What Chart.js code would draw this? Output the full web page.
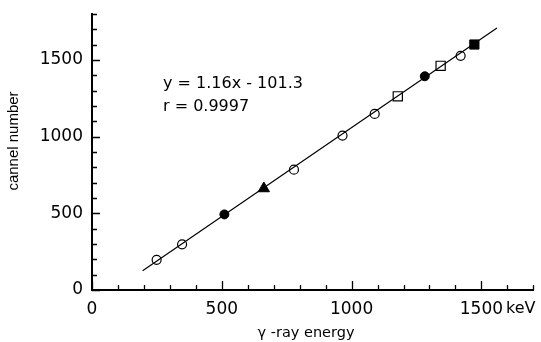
<!DOCTYPE html>
<html>
<head>
<meta charset="utf-8">
<script src="https://cdn.jsdelivr.net/npm/chart.js@4.4.0/dist/chart.umd.min.js"></script>
<style>
  html, body { margin: 0; padding: 0; background: #fff; }
  #wrap { width: 541px; height: 342px; position: relative; }
</style>
</head>
<body>
<div id="wrap"><canvas id="c"></canvas></div>
<script>
// ---- data (x = keV, y = channel) ----
const openCircleX   = [249, 347, 778, 965, 1089, 1420];
const openCircleY   = [197, 298, 785, 1007, 1148, 1527];
const filledCircleX = [510, 1282];
const filledCircleY = [493, 1394];
const triangleX     = [662];
const triangleY     = [662];
const openSquareX   = [1178, 1343];
const openSquareY   = [1263, 1462];
const filledSquareX = [1473];
const filledSquareY = [1601];
const fitX          = [195, 1560];
const fitY          = [125, 1708];
const xTickLabels   = [0, 500, 1000, 1500];
const yTickLabels   = [0, 500, 1000, 1500];

const NUMFONT = "'DejaVu Sans', Verdana, sans-serif";
const TXTFONT = "'Liberation Sans', Arial, sans-serif";

function pts(xs, ys) {
    return xs.map((x, i) => ({ x: x, y: ys[i] }));
}

// inward ticks every 100 (longer on labelled ones), titles, unit and fit text
const extras = {
    id: 'extras',
    afterDraw(chart) {
        const ctx = chart.ctx;
        const xs = chart.scales.x, ys = chart.scales.y;
        const area = chart.chartArea;
        ctx.save();
        ctx.strokeStyle = '#000';
        ctx.lineWidth = 1.3;
        ctx.beginPath();
        for (let v = 0; v <= xs.max; v += 100) {
            const px = Math.round(xs.getPixelForValue(v)) + 0.5;
            const len = xTickLabels.includes(v) ? 9 : 5;
            ctx.moveTo(px, area.bottom);
            ctx.lineTo(px, area.bottom - len);
        }
        for (let v = 0; v <= ys.max; v += 100) {
            const py = Math.round(ys.getPixelForValue(v)) + 0.5;
            const len = yTickLabels.includes(v) ? 8 : 5;
            ctx.moveTo(area.left, py);
            ctx.lineTo(area.left + len, py);
        }
        ctx.stroke();

        ctx.fillStyle = '#000';
        ctx.textBaseline = 'alphabetic';
        ctx.textAlign = 'left';
        ctx.font = '16px ' + NUMFONT;
        ctx.fillText('keV', 506, 313);
        ctx.fillText('y = 1.16x - 101.3', 163, 88);
        ctx.fillText('r = 0.9997', 163, 111);

        // axis titles
        ctx.font = '14.5px ' + NUMFONT;
        ctx.textAlign = 'center';
        ctx.fillText('\u03b3 -ray energy', 306, 337);

        ctx.font = '15px ' + TXTFONT;
        ctx.translate(18, 141);
        ctx.rotate(-Math.PI / 2);
        ctx.fillText('cannel number', 0, 0);
        ctx.restore();
    }
};

const black = '#000';

new Chart(document.getElementById('c'), {
    type: 'scatter',
    data: {
        datasets: [
            {
                type: 'line',
                data: pts(fitX, fitY),
                borderColor: black,
                borderWidth: 1.2,
                pointRadius: 0,
                fill: false
            },
            {
                data: pts(openCircleX, openCircleY),
                pointStyle: 'circle',
                pointRadius: 4.5,
                backgroundColor: '#fff',
                borderColor: black,
                borderWidth: 1.2
            },
            {
                data: pts(filledCircleX, filledCircleY),
                pointStyle: 'circle',
                pointRadius: 4.5,
                backgroundColor: black,
                borderColor: black,
                borderWidth: 1
            },
            {
                data: pts(triangleX, triangleY),
                pointStyle: 'triangle',
                pointRadius: 6.5,
                backgroundColor: black,
                borderColor: black,
                borderWidth: 1
            },
            {
                data: pts(openSquareX, openSquareY),
                pointStyle: 'rect',
                pointRadius: 6.5,
                backgroundColor: '#fff',
                borderColor: black,
                borderWidth: 1.2
            },
            {
                data: pts(filledSquareX, filledSquareY),
                pointStyle: 'rect',
                pointRadius: 6.5,
                backgroundColor: black,
                borderColor: black,
                borderWidth: 1
            }
        ]
    },
    options: {
        responsive: true,
        maintainAspectRatio: false,
        animation: false,
        layout: { padding: { top: 14, right: 6, left: 0, bottom: 0 } },
        plugins: {
            legend: { display: false },
            tooltip: { enabled: false }
        },
        scales: {
            x: {
                type: 'linear',
                min: 0,
                max: 1700,
                afterFit(scale) { scale.height = 52; },
                grid: { display: false },
                border: { display: true, color: black, width: 2 },
                ticks: {
                    stepSize: 100,
                    autoSkip: false,
                    maxRotation: 0,
                    padding: 1,
                    color: black,
                    font: { family: NUMFONT, size: 17 },
                    callback: v => xTickLabels.includes(v) ? String(v) : ''
                }
            },
            y: {
                type: 'linear',
                min: 0,
                max: 1800,
                afterFit(scale) { scale.width = 92; },
                grid: { display: false },
                border: { display: true, color: black, width: 2 },
                ticks: {
                    stepSize: 100,
                    autoSkip: false,
                    padding: 1,
                    color: black,
                    font: { family: NUMFONT, size: 17 },
                    callback: v => yTickLabels.includes(v) ? String(v) : ''
                }
            }
        }
    },
    plugins: [extras]
});
</script>
</body>
</html>
